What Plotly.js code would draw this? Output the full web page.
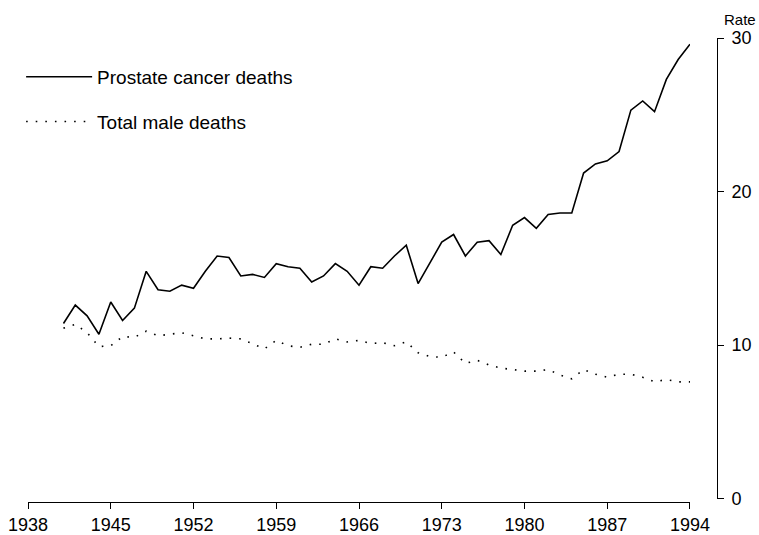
<!DOCTYPE html>
<html>
<head>
<meta charset="utf-8">
<script src="https://cdn.plot.ly/plotly-3.0.1.min.js"></script>
<style>html,body{margin:0;padding:0;background:#fff;}#chart{width:759px;height:535px;}</style>
</head>
<body>
<div id="chart"></div>
<script>
const years = [1941,1942,1943,1944,1945,1946,1947,1948,1949,1950,
  1951,1952,1953,1954,1955,1956,1957,1958,1959,1960,
  1961,1962,1963,1964,1965,1966,1967,1968,1969,1970,
  1971,1972,1973,1974,1975,1976,1977,1978,1979,1980,
  1981,1982,1983,1984,1985,1986,1987,1988,1989,1990,
  1991,1992,1993,1994];

const prostateDeaths = [11.4,12.6,11.9,10.7,12.8,11.6,12.4,14.8,13.6,13.5,
  13.9,13.7,14.8,15.8,15.7,14.5,14.6,14.4,15.3,15.1,
  15.0,14.1,14.5,15.3,14.8,13.9,15.1,15.0,15.8,16.5,
  14.0,15.4,16.7,17.2,15.8,16.7,16.8,15.9,17.8,18.3,
  17.6,18.5,18.6,18.6,21.2,21.8,22.0,22.6,25.3,25.9,
  25.2,27.3,28.6,29.6];

const totalMaleDeaths = [11.1,11.35,10.8,9.9,9.95,10.55,10.5,10.9,10.6,10.7,
  10.8,10.6,10.4,10.4,10.45,10.4,10.1,9.75,10.3,9.95,
  9.85,10.05,10.05,10.4,10.2,10.3,10.1,10.15,9.95,10.2,
  9.5,9.25,9.2,9.55,8.8,9.0,8.7,8.5,8.4,8.3,
  8.3,8.4,8.05,7.8,8.4,8.1,7.9,8.1,8.1,7.9,
  7.6,7.75,7.6,7.6];

const seriesNames = ["Prostate cancer deaths", "Total male deaths"];
const xTickVals = [1938,1945,1952,1959,1966,1973,1980,1987,1994];
const yTickVals = [0,10,20,30];
const yAxisLabel = "Rate";

const FONT = '"Liberation Sans", Arial, Helvetica, sans-serif';

const traces = [
  {
    x: years, y: prostateDeaths, name: seriesNames[0], type: 'scatter', mode: 'lines',
    line: {color: '#000', width: 1.6}, legendgroup: 'a'
  },
  {
    x: years, y: totalMaleDeaths, name: seriesNames[1], type: 'scatter', mode: 'lines',
    line: {color: '#000', width: 1.6, dash: '1.6px,8px'}, legendgroup: 'b'
  }
];

const layout = {
  width: 759, height: 535,
  margin: {l: 28, r: 42, t: 38, b: 32.5, pad: 0},
  paper_bgcolor: '#fff', plot_bgcolor: '#fff',
  font: {family: FONT, color: '#000', size: 17},
  showlegend: true,
  legend: {
    x: -0.01, y: 0.957, xanchor: 'left', yanchor: 'top',
    font: {family: FONT, size: 19, color: '#000'},
    bgcolor: 'rgba(0,0,0,0)', borderwidth: 0,
    traceorder: 'grouped', tracegroupgap: 17, itemwidth: 66
  },
  xaxis: {
    domain: [0, 0.9608], range: [1938, 1994],
    anchor: 'free', position: 0,
    tickmode: 'array', tickvals: xTickVals, ticktext: xTickVals.map(String),
    ticks: 'outside', ticklen: 6, tickwidth: 1, tickcolor: '#000',
    showline: true, linecolor: '#000', linewidth: 1,
    showgrid: false, zeroline: false, automargin: false,
    tickfont: {family: FONT, size: 18, color: '#000'}
  },
  yaxis: {
    domain: [0.0075, 1], range: [0, 30],
    anchor: 'free', position: 1, side: 'right',
    tickmode: 'array', tickvals: yTickVals, ticktext: yTickVals.map(String),
    ticks: 'outside', ticklen: 6, tickwidth: 1, tickcolor: '#000',
    showline: true, linecolor: '#000', linewidth: 1,
    showgrid: false, zeroline: false, automargin: false,
    ticklabelstandoff: 4,
    tickfont: {family: FONT, size: 18, color: '#000'}
  },
  annotations: [{
    text: yAxisLabel, xref: 'paper', yref: 'paper', x: 1.0334, y: 1.04,
    xanchor: 'center', yanchor: 'middle', showarrow: false,
    font: {family: FONT, size: 15, color: '#000'}
  }]
};

Plotly.newPlot('chart', traces, layout, {displayModeBar: false, staticPlot: true});
</script>
</body>
</html>
